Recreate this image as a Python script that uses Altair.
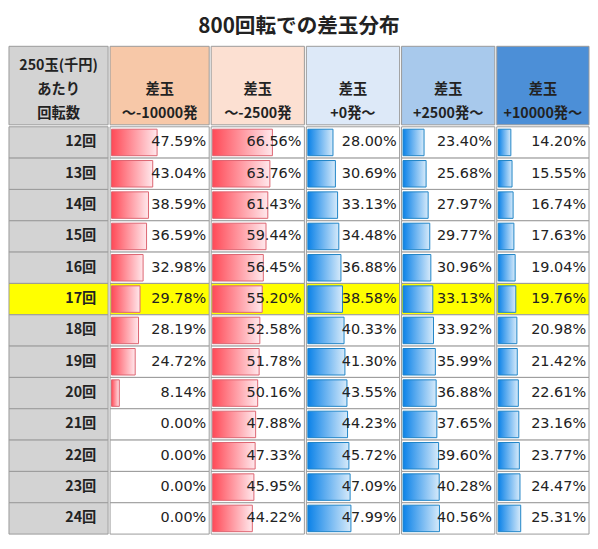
import altair as alt
import pandas as pd

title_text = "800回転での差玉分布"
rows = ["12回", "13回", "14回", "15回", "16回", "17回", "18回",
        "19回", "20回", "21回", "22回", "23回", "24回"]
highlight_row = "17回"
col_headers = ["250玉(千円)\nあたり\n回転数", "差玉\n～-10000発", "差玉\n～-2500発",
               "差玉\n+0発～", "差玉\n+2500発～", "差玉\n+10000発～"]
c1 = [47.59, 43.04, 38.59, 36.59, 32.98, 29.78, 28.19, 24.72, 8.14, 0.00, 0.00, 0.00, 0.00]
c2 = [66.56, 63.76, 61.43, 59.44, 56.45, 55.20, 52.58, 51.78, 50.16, 47.88, 47.33, 45.95, 44.22]
c3 = [28.00, 30.69, 33.13, 34.48, 36.88, 38.58, 40.33, 41.30, 43.55, 44.23, 45.72, 47.09, 47.99]
c4 = [23.40, 25.68, 27.97, 29.77, 30.96, 33.13, 33.92, 35.99, 36.88, 37.65, 39.60, 40.28, 40.56]
c5 = [14.20, 15.55, 16.74, 17.63, 19.04, 19.76, 20.98, 21.42, 22.61, 23.16, 23.77, 24.47, 25.31]
series = [c1, c2, c3, c4, c5]

header_fills = ["#d3d3d3", "#f7c8a8", "#fce0d2", "#dde9f8", "#a8c9ec", "#4c8fd7"]
widths = [101, 101, 95, 95, 95, 94]
HEADER_H = 80
BODY_H = 415
GRID = "#9a9a9a"
JP = "Noto Sans CJK JP"
NUM = "DejaVu Sans"
LINE_H = 24.5

red_grad = alt.Gradient(gradient="linear", x1=0, x2=1, y1=0, y2=0,
                        stops=[alt.GradientStop(color="#ff4a57", offset=0),
                               alt.GradientStop(color="#ffe8ec", offset=1)])
blue_grad = alt.Gradient(gradient="linear", x1=0, x2=1, y1=0, y2=0,
                         stops=[alt.GradientStop(color="#0b82e8", offset=0),
                                alt.GradientStop(color="#d6eafa", offset=1)])

yscale = alt.Scale(domain=rows, paddingInner=0, paddingOuter=0)


def header(i):
    w = widths[i]
    n_lines = col_headers[i].count("\n") + 1
    y_first = 69 - (n_lines - 1) * LINE_H
    df = pd.DataFrame({"h": [col_headers[i]]})
    base = alt.Chart(df)
    bg = base.mark_rect(fill=header_fills[i], stroke=GRID, strokeWidth=1).encode(
        x=alt.value(0), x2=alt.value(w), y=alt.value(0), y2=alt.value(HEADER_H))
    txt = base.mark_text(font=JP, fontSize=14.5, fontWeight="bold", color="#222222",
                         lineBreak="\n", lineHeight=LINE_H, align="center",
                         baseline="middle").encode(
        x=alt.value(w / 2), y=alt.value(y_first), text="h:N")
    return alt.layer(bg, txt).properties(width=w, height=HEADER_H)


def body(i):
    w = widths[i]
    if i == 0:
        df = pd.DataFrame({"row": rows, "label": rows})
    else:
        vals = series[i - 1]
        df = pd.DataFrame({"row": rows, "v": vals,
                           "label": [f"{v:.2f}%" for v in vals]})
    df["hl"] = df["row"] == highlight_row
    base = alt.Chart(df)
    Y = alt.Y("row:N", sort=rows, scale=yscale, axis=None)
    normal_bg = "#d3d3d3" if i == 0 else "#ffffff"
    bg = base.mark_rect(stroke=GRID, strokeWidth=1).encode(
        y=Y, x=alt.value(0), x2=alt.value(w),
        fill=alt.when(alt.datum.hl).then(alt.value("#ffff00")).otherwise(alt.value(normal_bg)))
    layers = [bg]
    if i == 0:
        txt = base.mark_text(font=JP, fontSize=14.5, fontWeight="bold", color="#222222",
                             align="right", baseline="middle").encode(
            y=Y, x=alt.value(w - 12), text="label:N")
        layers.append(txt)
    else:
        grad = red_grad if i <= 2 else blue_grad
        strk = "#dc6470" if i <= 2 else "#1f84c6"
        bars = base.transform_filter("datum.v > 0").mark_bar(
            color=grad, stroke=strk, strokeWidth=1, height=27).encode(
            y=Y,
            x=alt.X("v:Q", scale=alt.Scale(domain=[0, 100], range=[1.5, w - 2]), axis=None),
            x2=alt.datum(0))
        txt = base.mark_text(font=NUM, fontSize=14.7, color="#222222",
                             align="right", baseline="middle").encode(
            y=Y, x=alt.value(w - 3), text="label:N")
        layers += [bars, txt]
    return alt.layer(*layers).properties(width=w, height=BODY_H)


cols = [alt.vconcat(header(i), body(i), spacing=0) for i in range(6)]

chart = alt.hconcat(*cols, spacing=0).properties(
    title=alt.TitleParams(title_text, font=JP, fontSize=21, fontWeight="bold",
                          color="#222222", anchor="middle", offset=9),
    padding={"left": 0, "top": 3, "right": 0, "bottom": 0},
).configure_view(stroke=None)

chart.save("out.html", embed_options={"renderer": "svg", "actions": False})
